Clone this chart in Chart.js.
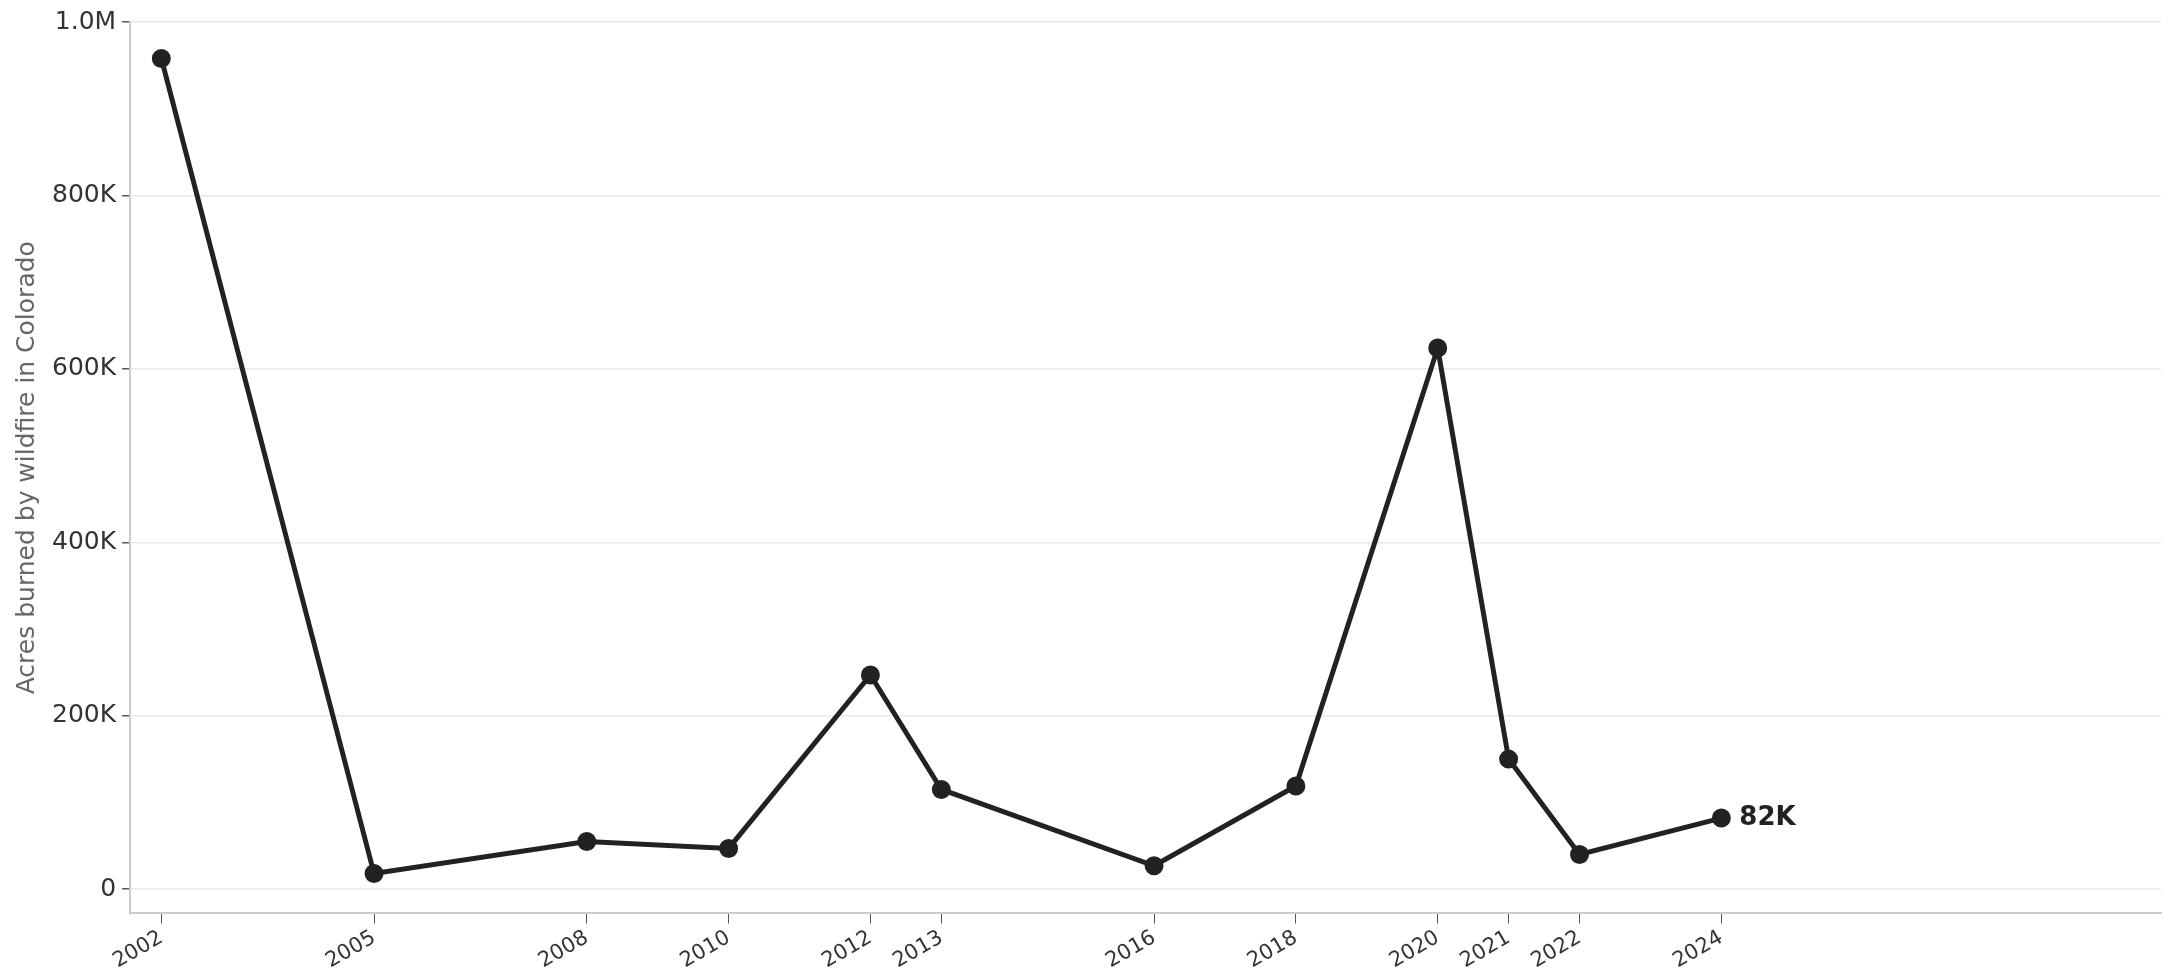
<!DOCTYPE html>
<html><head><meta charset="utf-8">
<script src="https://cdn.jsdelivr.net/npm/chart.js@4"></script>
<style>html,body{margin:0;background:#fff}#wrap{width:2181px;height:980px}</style>
</head><body><div id="wrap"><canvas id="c"></canvas></div>
<script>
const years = [2002, 2005, 2008, 2010, 2012, 2013, 2016, 2018, 2020, 2021, 2022, 2024];
const acres = [958000, 18000, 55000, 47000, 247000, 115000, 27000, 119000, 624000, 150000, 40000, 82000];
const yTicks = [0, 200000, 400000, 600000, 800000, 1000000];
const lastLabel = '82K';

const fmt = v => v === 0 ? '0' : v >= 1000000 ? (v / 1000000).toFixed(1) + 'M' : (v / 1000) + 'K';

const endLabel = {
  id: 'endLabel',
  afterDatasetsDraw(chart) {
    const { ctx, scales: { x, y } } = chart;
    const i = years.length - 1;
    ctx.save();
    ctx.font = 'bold 26px "DejaVu Sans"';
    ctx.fillStyle = '#222';
    ctx.textBaseline = 'middle';
    ctx.fillText(lastLabel, x.getPixelForValue(years[i]) + 18, y.getPixelForValue(acres[i]));
    ctx.restore();
  }
};

new Chart(document.getElementById('c'), {
  type: 'line',
  data: {
    datasets: [{
      data: years.map((yr, i) => ({ x: yr, y: acres[i] })),
      borderColor: '#222', backgroundColor: '#222',
      borderWidth: 5, pointRadius: 7, pointHoverRadius: 7, tension: 0
    }]
  },
  options: {
    responsive: true, maintainAspectRatio: false, animation: false,
    layout: { padding: { top: 22, right: 20, left: 8, bottom: 4 } },
    plugins: { legend: { display: false }, tooltip: { enabled: false } },
    scales: {
      x: {
        type: 'linear', min: 2001.56, max: 2030.2,
        afterBuildTicks: s => { s.ticks = years.map(v => ({ value: v })); },
        ticks: { color: '#333', font: { size: 21, family: 'DejaVu Sans' }, maxRotation: 30, minRotation: 30, callback: v => String(v), padding: 2 },
        grid: { drawOnChartArea: false, tickLength: 10, tickColor: '#555' },
        border: { color: '#ccc', width: 2 }
      },
      y: {
        min: -28000, max: 1000000,
        afterBuildTicks: s => { s.ticks = yTicks.map(v => ({ value: v })); },
        ticks: { color: '#333', font: { size: 25, family: 'DejaVu Sans' }, callback: v => fmt(v), padding: 6 },
        grid: { color: '#e8e8e8', lineWidth: 1.5, tickLength: 8, tickColor: '#555' },
        border: { color: '#ccc', width: 2 },
        title: { display: true, text: 'Acres burned by wildfire in Colorado', color: '#666', font: { size: 25, family: 'DejaVu Sans' }, padding: 4 }
      }
    }
  },
  plugins: [endLabel]
});
</script></body></html>
